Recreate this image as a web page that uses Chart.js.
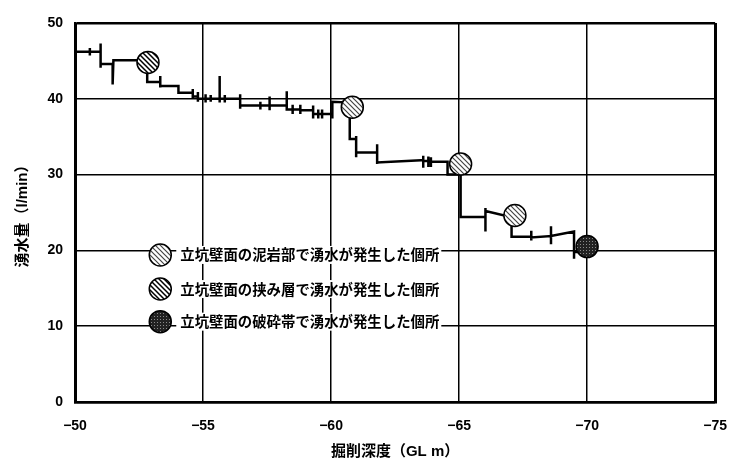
<!DOCTYPE html>
<html lang="ja">
<head>
  <meta charset="UTF-8" />
  <title>掘削深度と湧水量</title>
  <script src="https://cdn.jsdelivr.net/npm/chart.js"></script>
  <style>
    html, body { margin: 0; padding: 0; background: #fff; }
    #wrap { width: 743px; height: 464px; }
  </style>
</head>
<body>
  <div id="wrap"><canvas id="yusuiChart"></canvas></div>

  <script>
    // 湧水量の推移（計測のばらつきを含む折れ線）
    const depth = [
      -50.00, -50.58, -50.58, -50.58, -50.58, -51.00, -51.00, -51.00, -51.00, -51.47,
      -51.47, -51.50, -52.82, -52.82, -53.33, -53.33, -53.33, -53.33, -54.04, -54.04,
      -54.60, -54.60, -54.60, -54.60, -54.80, -54.80, -54.80, -54.80, -55.10, -55.10,
      -55.10, -55.10, -55.30, -55.30, -55.30, -55.30, -55.65, -55.65, -55.65, -55.65,
      -55.85, -55.85, -55.85, -55.85, -56.45, -56.45, -56.45, -56.45, -57.24, -57.24,
      -57.24, -57.24, -57.60, -57.60, -57.60, -57.60, -58.27, -58.27, -58.27, -58.27,
      -58.50, -58.50, -58.50, -58.50, -58.80, -58.80, -58.80, -58.80, -59.30, -59.30,
      -59.30, -59.30, -59.50, -59.50, -59.50, -59.50, -59.65, -59.65, -59.65, -59.65,
      -60.05, -60.05, -60.05, -60.73, -60.73, -60.98, -60.98, -60.98, -60.98, -61.80,
      -61.80, -61.80, -61.80, -63.52, -63.60, -63.60, -63.60, -63.60, -63.80, -63.80,
      -63.80, -63.80, -63.90, -63.90, -63.90, -63.90, -64.55, -64.55, -65.06, -65.06,
      -66.03, -66.03, -66.03, -66.03, -66.90, -67.05, -67.05, -67.82, -67.82, -67.82,
      -67.82, -68.59, -68.59, -68.59, -68.59, -69.49, -69.49, -69.49, -69.85
    ];
    const flow = [
      46.2, 46.2, 46.7, 45.7, 46.2, 46.2, 47.3, 44.1, 44.6, 44.6,
      41.9, 45.1, 45.1, 42.2, 42.2, 43.0, 41.5, 41.7, 41.7, 40.8,
      40.8, 41.3, 40.1, 40.3, 40.3, 40.9, 39.6, 40.0, 40.0, 40.6,
      39.5, 40.0, 40.0, 40.5, 39.6, 40.0, 40.0, 43.0, 39.5, 40.0,
      40.0, 40.5, 39.5, 40.0, 40.0, 40.6, 38.7, 39.1, 39.1, 39.6,
      38.6, 39.1, 39.1, 40.3, 38.5, 39.1, 39.1, 41.0, 38.5, 38.6,
      38.6, 39.2, 38.0, 38.6, 38.6, 39.2, 38.0, 38.5, 38.5, 39.1,
      37.4, 38.0, 38.0, 38.6, 37.4, 38.0, 38.0, 38.6, 37.4, 38.0,
      38.0, 37.4, 39.6, 39.5, 34.7, 34.7, 35.1, 32.3, 32.9, 32.9,
      34.0, 31.4, 31.6, 31.9, 31.9, 32.5, 30.9, 31.8, 31.8, 32.4,
      31.0, 31.7, 31.7, 32.3, 31.0, 31.7, 31.7, 30.0, 30.0, 24.4,
      24.4, 25.6, 22.5, 25.2, 24.5, 23.3, 21.8, 21.8, 22.6, 21.3,
      21.7, 21.9, 23.2, 20.8, 21.9, 22.5, 18.9, 19.8, 19.8
    ];

    // 湧水が発生した個所（0:泥岩部 1:挟み層 2:破砕帯）
    const spotDepth = [-52.85, -60.83, -65.06, -67.18, -70.0];
    const spotFlow = [44.8, 38.9, 31.4, 24.6, 20.5];
    const spotType = [1, 0, 0, 0, 2];

    const legendLabels = [
      '立坑壁面の泥岩部で湧水が発生した個所',
      '立坑壁面の挟み層で湧水が発生した個所',
      '立坑壁面の破砕帯で湧水が発生した個所'
    ];

    const xTicks = [-50, -55, -60, -65, -70, -75];
    const yTicks = [0, 10, 20, 30, 40, 50];

    // 模様
    function hatch(color, width) {
      const c = document.createElement('canvas');
      c.width = 5; c.height = 5;
      const g = c.getContext('2d');
      g.fillStyle = '#fff';
      g.fillRect(0, 0, 5, 5);
      g.strokeStyle = color;
      g.lineWidth = width;
      g.beginPath();
      g.moveTo(-1, -1); g.lineTo(6, 6);
      g.moveTo(-1, 4); g.lineTo(1, 6);
      g.moveTo(4, -1); g.lineTo(6, 1);
      g.stroke();
      return g.createPattern(c, 'repeat');
    }
    function dots() {
      const c = document.createElement('canvas');
      c.width = 3; c.height = 3;
      const g = c.getContext('2d');
      g.fillStyle = '#222';
      g.fillRect(0, 0, 3, 3);
      g.fillStyle = '#8a8a8a';
      g.fillRect(1, 1, 1, 1);
      return g.createPattern(c, 'repeat');
    }
    const patterns = [hatch('#444', 1.2), hatch('#000', 1.5), dots()];

    const tickFont = { family: '"Liberation Sans", Arial, sans-serif', size: 14, weight: 'bold' };
    const titleFont = { family: '"Liberation Sans", "Noto Sans CJK JP", sans-serif', size: 15, weight: 'bold' };

    // 凡例（グラフ内に描く）
    const spotLegend = {
      id: 'spotLegend',
      afterDatasetsDraw(chart) {
        const { ctx, scales: { x, y } } = chart;
        const cx = x.getPixelForValue(-53.33);
        const rows = [19.4, 14.9, 10.6];
        ctx.save();
        ctx.font = 'bold 14.4px "Noto Sans CJK JP", sans-serif';
        ctx.textBaseline = 'middle';
        legendLabels.forEach((label, i) => {
          const cy = y.getPixelForValue(rows[i]);
          const w = ctx.measureText(label).width;
          ctx.fillStyle = '#fff';
          ctx.fillRect(cx + 16, cy - 9, w + 6, 18);
          ctx.fillStyle = '#000';
          ctx.fillText(label, cx + 20, cy);
          ctx.beginPath();
          ctx.arc(cx, cy, 11, 0, Math.PI * 2);
          ctx.fillStyle = patterns[i];
          ctx.fill();
          ctx.lineWidth = 1.5;
          ctx.strokeStyle = '#000';
          ctx.stroke();
        });
        ctx.restore();
      }
    };

    const ctx = document.getElementById('yusuiChart').getContext('2d');
    new Chart(ctx, {
      type: 'scatter',
      data: {
        datasets: [
          {
            label: '湧水個所',
            data: spotDepth.map((d, i) => ({ x: d, y: spotFlow[i] })),
            pointRadius: 11,
            pointHoverRadius: 11,
            pointBorderWidth: 1.5,
            pointBorderColor: '#000',
            pointBackgroundColor: spotType.map(t => patterns[t]),
            order: 0
          },
          {
            label: '湧水量',
            data: depth.map((d, i) => ({ x: d, y: flow[i] })),
            showLine: true,
            borderColor: '#000',
            borderWidth: 2.5,
            pointRadius: 0,
            tension: 0,
            order: 1
          }
        ]
      },
      options: {
        responsive: true,
        maintainAspectRatio: false,
        animation: false,
        layout: { padding: { top: 23, right: 16, left: 0, bottom: 0 } },
        plugins: {
          legend: { display: false },
          tooltip: { enabled: false }
        },
        scales: {
          x: {
            type: 'linear',
            min: -75,
            max: -50,
            reverse: true,
            afterBuildTicks: axis => { axis.ticks = xTicks.map(v => ({ value: v })); },
            afterFit: axis => { axis.height = 62; },
            ticks: {
              color: '#000',
              font: tickFont,
              padding: 16,
              maxRotation: 0,
              callback: v => '\u2212' + Math.abs(v)
            },
            grid: {
              color: '#000',
              drawTicks: false,
              lineWidth: c => (c.tick && (c.tick.value === -75 || c.tick.value === -50)) ? 3 : 1.5
            },
            border: { color: '#000', width: 2.5 },
            title: {
              display: true,
              text: '掘削深度（GL m）',
              color: '#000',
              font: titleFont,
              padding: { top: 0, bottom: 3 }
            }
          },
          y: {
            min: 0,
            max: 50,
            afterBuildTicks: axis => { axis.ticks = yTicks.map(v => ({ value: v })); },
            afterFit: axis => { axis.width = 75; },
            ticks: { color: '#000', font: tickFont, padding: 12 },
            grid: {
              color: '#000',
              drawTicks: false,
              lineWidth: c => (c.tick && (c.tick.value === 0 || c.tick.value === 50)) ? 2.5 : 1.5
            },
            border: { color: '#000', width: 2.5 },
            title: {
              display: true,
              text: '湧水量（l/min）',
              color: '#000',
              font: titleFont,
              padding: { top: 14, bottom: 0 }
            }
          }
        }
      },
      plugins: [spotLegend]
    });
  </script>
</body>
</html>
